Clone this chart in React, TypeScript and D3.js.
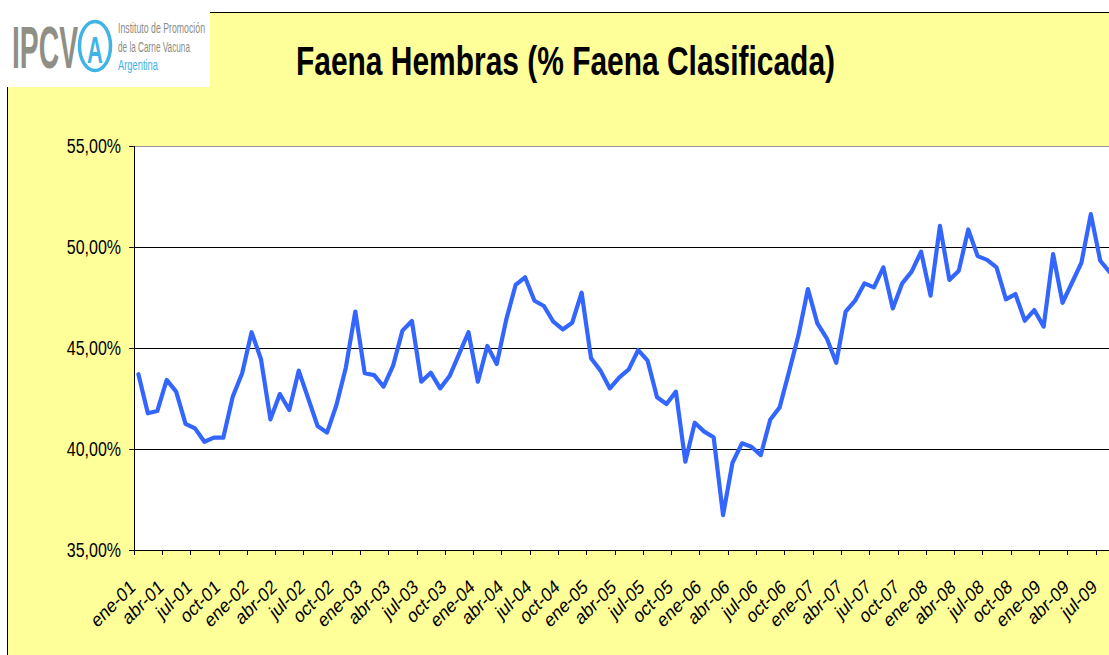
import React from "react";
import * as d3 from "d3";

const MONTH_NAMES = ["ene", "feb", "mar", "abr", "may", "jun", "jul", "ago", "sep", "oct", "nov", "dic"];
const START_YEAR = 2001;

// % de hembras en la faena clasificada, mensual desde ene-01
const hembrasPct = [
  43.70, 41.77, 41.88, 43.42, 42.84, 41.24, 41.02, 40.36, 40.56, 40.56, 42.59, 43.75,
  45.78, 44.44, 41.47, 42.72, 41.93, 43.88, 42.51, 41.14, 40.81, 42.18, 44.04, 46.80,
  43.75, 43.66, 43.09, 44.11, 45.86, 46.34, 43.33, 43.78, 43.00, 43.61, 44.70, 45.78,
  43.33, 45.10, 44.21, 46.39, 48.12, 48.50, 47.34, 47.08, 46.30, 45.92, 46.25, 47.74,
  44.49, 43.88, 43.00, 43.55, 43.94, 44.90, 44.37, 42.56, 42.23, 42.84, 39.37, 41.30,
  40.86, 40.58, 36.73, 39.32, 40.28, 40.11, 39.70, 41.45, 42.06, 43.83, 45.64, 47.92,
  46.22, 45.48, 44.27, 46.80, 47.34, 48.20, 48.00, 48.99, 46.96, 48.20, 48.78, 49.77,
  47.59, 51.05, 48.37, 48.83, 50.87, 49.55, 49.36, 48.99, 47.41, 47.67, 46.35, 46.88,
  46.06, 49.65, 47.24, 48.23, 49.22, 51.63, 49.32, 48.75,
];

const months = hembrasPct.map((_, i) => {
  const m = MONTH_NAMES[i % 12];
  const y = String((START_YEAR + Math.floor(i / 12)) % 100).padStart(2, "0");
  return `${m}-${y}`;
});

const yTicks = [35, 40, 45, 50, 55];
const gridValues = [40, 45, 50];
const LABEL_EVERY = 3;

const TITLE = "Faena Hembras (% Faena Clasificada)";

const locale = d3.formatLocale({ decimal: ",", thousands: ".", grouping: [3], currency: ["", "€"] });
const fmt = locale.format(".2f");

const W = 1109;
const H = 655;
const PLOT_LEFT = 133.7;
const PLOT_RIGHT = 1114.4;
const PLOT_TOP = 146;
const PLOT_BOTTOM = 550;
const FONT = "'Liberation Sans', Arial, sans-serif";
const YELLOW = "#FFFF99";

export default function App() {
  const x = d3.scaleBand<string>().domain(months).range([PLOT_LEFT, PLOT_RIGHT]).paddingInner(0).paddingOuter(0);
  const y = d3.scaleLinear().domain([35, 55]).range([PLOT_BOTTOM, PLOT_TOP]);
  const cx = (m: string) => (x(m) as number) + x.bandwidth() / 2;

  const line = d3
    .line<number>()
    .x((_, i) => cx(months[i]))
    .y((d) => y(d));

  const crisp = (v: number) => Math.round(v) + 0.5;

  return (
    <svg
      width={W}
      height={H}
      style={{ position: "absolute", left: 0, top: 0, display: "block", background: "#fff" }}
    >
      {/* chart area */}
      <rect x={7.5} y={12.5} width={1130} height={680} fill={YELLOW} stroke="#000" strokeWidth={1} />

      {/* logo */}
      <rect x={0} y={0} width={210} height={87} fill="#fff" />
      <text
        transform="translate(12,68) scale(1,1.95)"
        fontFamily="'Liberation Sans Narrow', 'Liberation Sans', sans-serif"
        fontSize={30}
        fontWeight="bold"
        fill="#8f8f86"
        textLength={66}
        lengthAdjust="spacingAndGlyphs"
      >
        IPCV
      </text>
      <ellipse cx={95} cy={46} rx={15.5} ry={24.5} fill="#fff" stroke="#41b4e6" strokeWidth={3.5} />
      <text
        transform="translate(95,63) scale(1,1.7)"
        textAnchor="middle"
        fontFamily={FONT}
        fontWeight="bold"
        fontSize={22}
        fill="#41b4e6"
      >
        A
      </text>
      <text transform="translate(118,33) scale(1,1.5)" fontFamily={FONT} fontSize={10} fill="#8c8c84" textLength={87} lengthAdjust="spacingAndGlyphs">
        Instituto de Promoción
      </text>
      <text transform="translate(118,52) scale(1,1.5)" fontFamily={FONT} fontSize={10} fill="#8c8c84" textLength={72} lengthAdjust="spacingAndGlyphs">
        de la Carne Vacuna
      </text>
      <text transform="translate(118,70) scale(1,1.5)" fontFamily={FONT} fontSize={10} fill="#41b4e6" textLength={40} lengthAdjust="spacingAndGlyphs">
        Argentina
      </text>

      {/* title */}
      <text
        transform="translate(565.5,75) scale(1,1.45)"
        textAnchor="middle"
        fontFamily={FONT}
        fontWeight="bold"
        fontSize={27.5}
        fill="#000"
        textLength={539}
        lengthAdjust="spacingAndGlyphs"
      >
        {TITLE}
      </text>

      {/* plot area */}
      <rect x={PLOT_LEFT} y={PLOT_TOP} width={PLOT_RIGHT - PLOT_LEFT} height={PLOT_BOTTOM - PLOT_TOP} fill="#fff" />
      <line x1={PLOT_LEFT} x2={PLOT_RIGHT} y1={PLOT_TOP + 0.5} y2={PLOT_TOP + 0.5} stroke="#999" strokeWidth={1} />

      {gridValues.map((v) => (
        <line key={v} x1={PLOT_LEFT} x2={PLOT_RIGHT} y1={crisp(y(v))} y2={crisp(y(v))} stroke="#000" strokeWidth={1} />
      ))}

      {/* y axis */}
      <line x1={crisp(PLOT_LEFT)} x2={crisp(PLOT_LEFT)} y1={PLOT_TOP} y2={PLOT_BOTTOM + 4} stroke="#000" strokeWidth={1} />
      {yTicks.map((v) => (
        <g key={v}>
          <line x1={PLOT_LEFT - 4.5} x2={PLOT_LEFT} y1={crisp(y(v))} y2={crisp(y(v))} stroke="#000" strokeWidth={1} />
          <text
            transform={`translate(121,${y(v) + 7}) scale(1,1.3)`}
            textAnchor="end"
            fontFamily={FONT}
            fontSize={16}
            fill="#000"
          >
            {fmt(v) + "%"}
          </text>
        </g>
      ))}

      {/* x axis */}
      <line x1={PLOT_LEFT - 4.5} x2={PLOT_RIGHT} y1={crisp(PLOT_BOTTOM)} y2={crisp(PLOT_BOTTOM)} stroke="#000" strokeWidth={1} />
      {months.map((m, i) =>
        i % LABEL_EVERY === 0 ? (
          <g key={m}>
            <line
              x1={crisp(x(m) as number)}
              x2={crisp(x(m) as number)}
              y1={PLOT_BOTTOM}
              y2={PLOT_BOTTOM + 5}
              stroke="#000"
              strokeWidth={1}
            />
            <text
              transform={`translate(${cx(m) - 2},${589}) scale(1,1.2) rotate(-40)`}
              textAnchor="end"
              fontFamily={FONT}
              fontSize={16.5}
              fill="#000"
            >
              {m}
            </text>
          </g>
        ) : null
      )}

      {/* series */}
      <path d={line(hembrasPct) || ""} fill="none" stroke="#3366FF" strokeWidth={4.2} strokeLinejoin="round" strokeLinecap="round" />
    </svg>
  );
}
